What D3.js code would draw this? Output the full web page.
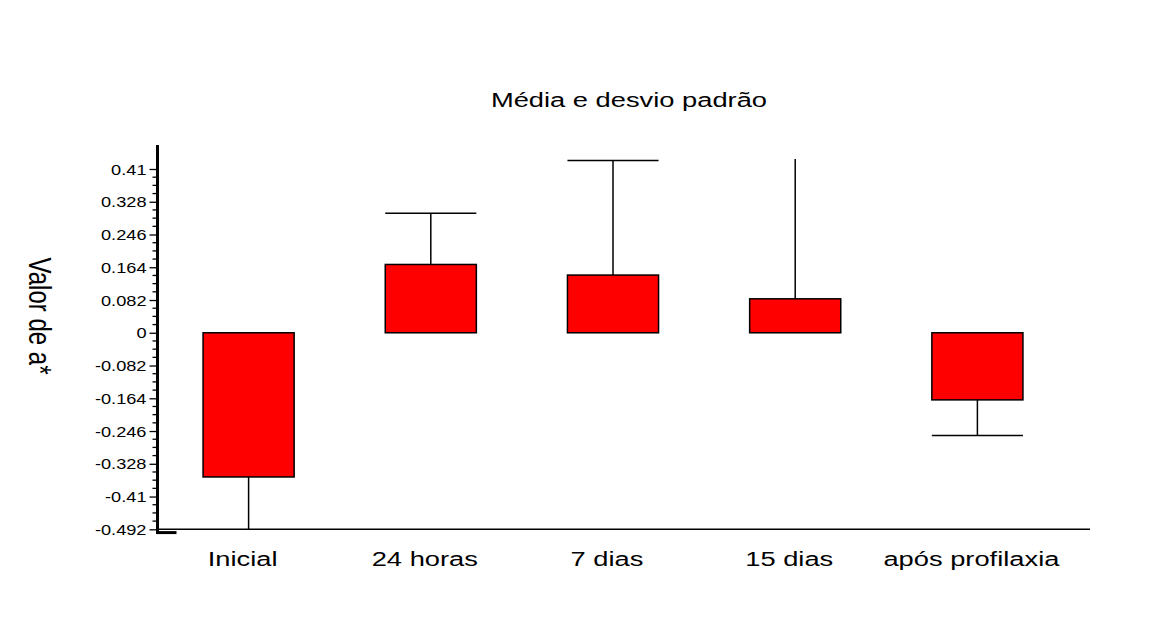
<!DOCTYPE html>
<html>
<head>
<meta charset="utf-8">
<script src="https://cdn.jsdelivr.net/npm/d3@7"></script>
<style>
  html, body { margin: 0; padding: 0; background: #fff; }
  svg { display: block; font-family: "Liberation Sans", Arial, sans-serif; }
</style>
</head>
<body>
<svg id="chart" width="1172" height="623"></svg>
<script>
// ---- data ----
const categories = ["Inicial", "24 horas", "7 dias", "15 dias", "após profilaxia"];
const means = [-0.361, 0.171, 0.1445, 0.085, -0.168];
const sds = [0.135, 0.128, 0.2865, 0.37, 0.089];
const yTickValues = [0.41, 0.328, 0.246, 0.164, 0.082, 0, -0.082, -0.164, -0.246, -0.328, -0.41, -0.492];
const yTickLabels = ["0.41", "0.328", "0.246", "0.164", "0.082", "0", "-0.082", "-0.164", "-0.246", "-0.328", "-0.41", "-0.492"];
const titleText = "Média e desvio padrão";
const yLabelText = "Valor de a*";

// ---- layout ----
const SX = 1.3; // horizontal text stretch seen in the reference
const svg = d3.select("#chart");
const left = 157.5, plotRight = 1068.5, axisRight = 1090;
const y = d3.scaleLinear().domain([-0.492, 0.41]).range([529.3, 169]);
const x = d3.scaleBand().domain(categories).range([left, plotRight]).paddingInner(0.5).paddingOuter(0.25);
const axisTopVal = 0.47, axisBottomVal = -0.504;
const clipMax = 0.435, clipMin = -0.492;

// x axis line
svg.append("line")
  .attr("x1", left).attr("x2", axisRight)
  .attr("y1", y(clipMin)).attr("y2", y(clipMin))
  .attr("stroke", "#000").attr("stroke-width", 1.5);

// bars & whiskers
const g = svg.append("g");
categories.forEach((c, i) => {
  const m = means[i], s = sds[i];
  const x0 = x(c), w = x.bandwidth(), cx = x0 + w / 2;
  let end = m >= 0 ? m + s : m - s;
  let capped = true;
  if (end > clipMax) { end = clipMax; capped = false; }
  if (end < clipMin) { end = clipMin; capped = false; }
  g.append("line")
    .attr("x1", cx).attr("x2", cx)
    .attr("y1", y(m)).attr("y2", y(end))
    .attr("stroke", "#000").attr("stroke-width", 1.5);
  if (capped) {
    g.append("line")
      .attr("x1", x0).attr("x2", x0 + w)
      .attr("y1", y(end)).attr("y2", y(end))
      .attr("stroke", "#000").attr("stroke-width", 1.5);
  }
  g.append("rect")
    .attr("x", x0).attr("width", w)
    .attr("y", y(Math.max(0, m))).attr("height", Math.abs(y(m) - y(0)))
    .attr("fill", "#ff0000").attr("stroke", "#000").attr("stroke-width", 1.5);
});

// y axis minor ticks
const minorVals = [];
for (let i = 0; i < yTickValues.length - 1; i++) {
  const a = yTickValues[i], b = yTickValues[i + 1];
  for (let k = 1; k < 4; k++) minorVals.push(a + (b - a) * k / 4);
}
svg.append("g").selectAll("line").data(minorVals).join("line")
  .attr("x1", left - 5).attr("x2", left)
  .attr("y1", d => y(d)).attr("y2", d => y(d))
  .attr("stroke", "#000").attr("stroke-width", 1.3);

// y axis major ticks + labels
const yAxis = d3.axisLeft(y).tickValues(yTickValues)
  .tickFormat((d, i) => yTickLabels[i]).tickSize(8).tickSizeOuter(0);
const ya = svg.append("g").attr("transform", `translate(${left},0)`).call(yAxis);
ya.select(".domain").remove();
ya.selectAll(".tick line").attr("stroke", "#000").attr("stroke-width", 1.3);
ya.selectAll(".tick text")
  .attr("x", null).attr("dy", null)
  .attr("transform", `translate(-11,5) scale(${SX},1)`)
  .attr("font-size", 14).attr("fill", "#000")
  .attr("font-family", "Liberation Sans, Arial, sans-serif");

// y axis main line
svg.append("line")
  .attr("x1", left).attr("x2", left)
  .attr("y1", y(axisTopVal)).attr("y2", y(axisBottomVal))
  .attr("stroke", "#000").attr("stroke-width", 3);
svg.append("line")
  .attr("x1", left - 1.5).attr("x2", left + 19)
  .attr("y1", y(axisBottomVal) - 1.5).attr("y2", y(axisBottomVal) - 1.5)
  .attr("stroke", "#000").attr("stroke-width", 3);

// x labels
svg.append("g").selectAll("text").data(categories).join("text")
  .attr("transform", d => `translate(${x(d) + x.bandwidth() / 2 - 6},566) scale(${SX},1)`)
  .attr("text-anchor", "middle").attr("font-size", 21).attr("fill", "#000")
  .text(d => d);

// title
svg.append("text")
  .attr("transform", `translate(629,107) scale(${SX},1)`)
  .attr("text-anchor", "middle").attr("font-size", 21).attr("fill", "#000")
  .text(titleText);

// y label
svg.append("text")
  .attr("transform", `translate(29,316) scale(${SX},1) rotate(90)`)
  .attr("text-anchor", "middle").attr("font-size", 24).attr("fill", "#000")
  .text(yLabelText);
</script>
</body>
</html>
